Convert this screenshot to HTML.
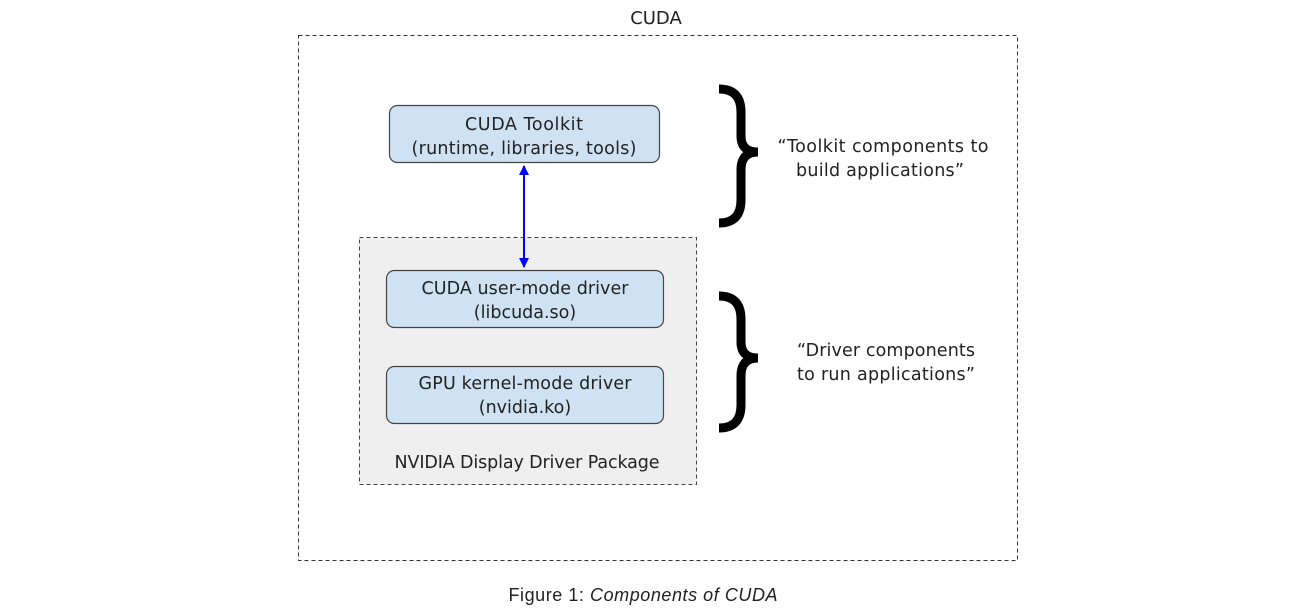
<!DOCTYPE html>
<html><head><meta charset="utf-8"><style>
html,body{margin:0;padding:0;background:#fff;}
svg{display:block;}
text{font-family:"DejaVu Sans","Liberation Sans",sans-serif;fill:#222;}
</style></head><body>
<svg width="1315" height="610" viewBox="0 0 1315 610" xmlns="http://www.w3.org/2000/svg">
<defs>
<marker id="ah" viewBox="0 0 10 10" refX="9" refY="5" markerWidth="6" markerHeight="5" orient="auto-start-reverse" markerUnits="strokeWidth">
<path d="M0,0 L10,5 L0,10 z" fill="#0000ff"/></marker>
</defs>
<text x="656" y="24" font-size="18" text-anchor="middle">CUDA</text>
<rect x="298.5" y="35.5" width="719" height="525" fill="none" stroke="#333" stroke-width="1" stroke-dasharray="4,3"/>
<rect x="359.5" y="237.5" width="337" height="247" fill="#efefef" stroke="#444" stroke-width="1" stroke-dasharray="4,3"/>
<rect x="389.5" y="105.5" width="270" height="57" rx="8" fill="#cfe2f3" stroke="#444" stroke-width="1.2"/>
<text x="524" y="130" font-size="17.5" text-anchor="middle" textLength="118">CUDA Toolkit</text>
<text x="524" y="154" font-size="17.5" text-anchor="middle" textLength="225">(runtime, libraries, tools)</text>
<rect x="386.5" y="270.5" width="277" height="57" rx="8" fill="#cfe2f3" stroke="#444" stroke-width="1.2"/>
<text x="525" y="294" font-size="17.5" text-anchor="middle" textLength="207">CUDA user-mode driver</text>
<text x="525" y="318" font-size="17.5" text-anchor="middle">(libcuda.so)</text>
<rect x="386.5" y="366.5" width="277" height="57" rx="8" fill="#cfe2f3" stroke="#444" stroke-width="1.2"/>
<text x="525" y="389" font-size="17.5" text-anchor="middle" textLength="213">GPU kernel-mode driver</text>
<text x="525" y="413" font-size="17.5" text-anchor="middle">(nvidia.ko)</text>
<text x="527" y="468" font-size="17.5" text-anchor="middle" textLength="265">NVIDIA Display Driver Package</text>
<line x1="524" y1="166" x2="524" y2="267" stroke="#0000ff" stroke-width="2" marker-start="url(#ah)" marker-end="url(#ah)"/>
<path d="M719,89 Q741,89 741,112 L741,136 Q741,152 758,152 Q741,152 741,170 L741,200 Q741,223 719,223" fill="none" stroke="#000" stroke-width="9"/>
<path d="M719,296 Q741,296 741,319 L741,342 Q741,358 758,358 Q741,358 741,376 L741,405 Q741,428 719,428" fill="none" stroke="#000" stroke-width="9"/>
<text x="883" y="152" font-size="17.5" text-anchor="middle" textLength="211">“Toolkit components to</text>
<text x="880" y="176" font-size="17.5" text-anchor="middle" textLength="168">build applications”</text>
<text x="886" y="356" font-size="17.5" text-anchor="middle" textLength="178">“Driver components</text>
<text x="886" y="380" font-size="17.5" text-anchor="middle" textLength="178">to run applications”</text>
<text x="643" y="601" font-size="18" text-anchor="middle" style="font-family:'Liberation Sans',sans-serif" textLength="269">Figure 1: <tspan font-style="italic">Components of CUDA</tspan></text>
</svg>
</body></html>
